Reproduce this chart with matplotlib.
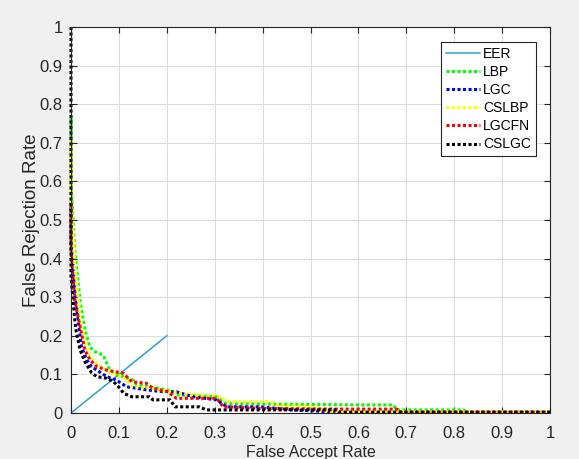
import numpy as np
import matplotlib.pyplot as plt

plt.rcParams['font.family'] = ['Liberation Sans', 'DejaVu Sans']

# EER reference line
eer_x = [0.0, 0.2]
eer_y = [0.0, 0.2]

# LBP
lbp_far = [0.0, 0.0, 0.008, 0.019, 0.029, 0.040, 0.050, 0.067, 0.081, 0.099, 0.130, 0.137,
           0.200, 0.220, 0.304, 0.325, 0.600, 0.673, 0.680, 0.820, 0.825, 1.0]
lbp_frr = [0.764, 0.60, 0.42, 0.29, 0.215, 0.17, 0.159, 0.15, 0.111, 0.098, 0.085, 0.073,
           0.06, 0.047, 0.042, 0.024, 0.021, 0.021, 0.008, 0.008, 0.002, 0.002]

# LGC
lgc_far = [0.0, 0.0, 0.008, 0.015, 0.022, 0.033, 0.043, 0.054, 0.075, 0.095, 0.116, 0.157,
           0.185, 0.220, 0.255, 0.304, 0.325, 0.395, 0.464, 0.560, 1.0]
lgc_frr = [0.547, 0.45, 0.32, 0.24, 0.172, 0.137, 0.12, 0.111, 0.094, 0.085, 0.068, 0.06,
           0.056, 0.055, 0.042, 0.034, 0.016, 0.016, 0.008, 0.002, 0.002]

# CSLBP
cslbp_far = [0.0, 0.0, 0.008, 0.019, 0.029, 0.040, 0.054, 0.075, 0.110, 0.127, 0.164, 0.200,
             0.228, 0.310, 0.325, 0.410, 0.430, 0.500, 0.540, 1.0]
cslbp_frr = [0.707, 0.55, 0.38, 0.25, 0.18, 0.146, 0.129, 0.107, 0.094, 0.068, 0.065, 0.056,
             0.051, 0.042, 0.03, 0.03, 0.021, 0.016, 0.004, 0.002]

# LGCFN
lgcfn_far = [0.0, 0.0, 0.008, 0.019, 0.029, 0.040, 0.054, 0.075, 0.109, 0.127, 0.157, 0.171,
             0.200, 0.220, 0.304, 0.318, 0.395, 0.560, 0.680, 0.690, 1.0]
lgcfn_frr = [0.54, 0.42, 0.29, 0.224, 0.163, 0.137, 0.12, 0.111, 0.103, 0.081, 0.077, 0.064,
             0.056, 0.038, 0.038, 0.016, 0.012, 0.010, 0.010, 0.002, 0.002]

# CSLGC
cslgc_far = [0.0, 0.0, 0.008, 0.011, 0.019, 0.029, 0.043, 0.054, 0.075, 0.089, 0.102, 0.110,
             0.127, 0.164, 0.171, 0.207, 0.217, 0.267, 0.283, 0.555, 0.560, 1.0]
cslgc_frr = [1.0, 0.353, 0.24, 0.21, 0.163, 0.133, 0.104, 0.094, 0.09, 0.081, 0.064, 0.051,
             0.042, 0.042, 0.034, 0.034, 0.016, 0.016, 0.008, 0.008, 0.002, 0.002]

tick_labels = ['0', '0.1', '0.2', '0.3', '0.4', '0.5', '0.6', '0.7', '0.8', '0.9', '1']

fig = plt.figure(figsize=(5.79, 4.59), dpi=100, facecolor='#f0f0f0')
ax = fig.add_axes([71 / 579, 1 - 413 / 459, 479 / 579, 386 / 459])

dots = (0, (1, 0.8))
lw = 2.2
ax.plot(eer_x, eer_y, color='#2a9fd8', lw=1.1, label='EER', zorder=2)
ax.plot(lbp_far, lbp_frr, color='#00ff00', lw=lw, linestyle=dots, label='LBP', clip_on=False)
ax.plot(lgc_far, lgc_frr, color='#0000ff', lw=lw, linestyle=dots, label='LGC', clip_on=False)
ax.plot(cslbp_far, cslbp_frr, color='#ffff00', lw=lw, linestyle=dots, label='CSLBP', clip_on=False)
ax.plot(lgcfn_far, lgcfn_frr, color='#ff0000', lw=lw, linestyle=dots, label='LGCFN', clip_on=False)
ax.plot(cslgc_far, cslgc_frr, color='#000000', lw=lw, linestyle=dots, label='CSLGC', clip_on=False)

ax.set_xlim(0, 1)
ax.set_ylim(0, 1)
ticks = np.round(np.arange(0, 1.01, 0.1), 1)
ax.set_xticks(ticks)
ax.set_yticks(ticks)
ax.set_xticklabels(tick_labels)
ax.set_yticklabels(tick_labels)
ax.tick_params(direction='in', top=True, right=True, length=4, labelsize=12,
               colors='#262626')
ax.tick_params(axis='x', pad=9)
ax.tick_params(axis='y', pad=6)
ax.grid(True, color='#dcdcdc', lw=0.8)
ax.set_axisbelow(True)
for s in ax.spines.values():
    s.set_color('#262626')
    s.set_linewidth(0.8)

ax.set_xlabel('False Accept Rate', fontsize=11.5, color='#262626', labelpad=3)
ax.set_ylabel('False Rejection Rate', fontsize=13.5, color='#262626', labelpad=0)

leg = ax.legend(loc='upper right', bbox_to_anchor=(0.971, 0.962), fontsize=10,
                fancybox=False, framealpha=1, edgecolor='#262626', handlelength=2.45,
                handletextpad=0.25, borderpad=0.35, borderaxespad=0, labelspacing=0.3)
leg.get_frame().set_linewidth(0.8)

fig.savefig('out.png', dpi=100, facecolor=fig.get_facecolor())
